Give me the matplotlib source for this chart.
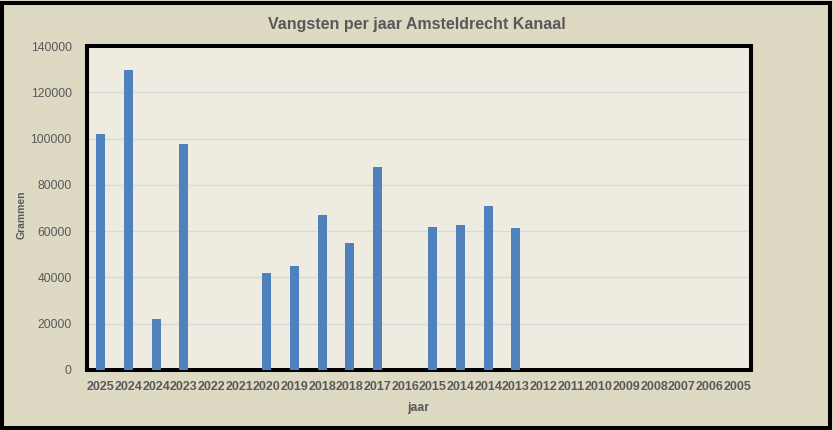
import matplotlib
matplotlib.use("Agg")
import matplotlib.pyplot as plt
from matplotlib.patches import Rectangle

categories = ["2025", "2024", "2024", "2023", "2022", "2021", "2020", "2019",
              "2018", "2018", "2017", "2016", "2015", "2014", "2014", "2013",
              "2012", "2011", "2010", "2009", "2008", "2007", "2006", "2005"]
values = [102000, 129700, 21900, 97600, 0, 0, 41800, 44800,
          66900, 54800, 87700, 0, 61700, 62600, 70800, 61300,
          0, 0, 0, 0, 0, 0, 0, 0]
yticks = [0, 20000, 40000, 60000, 80000, 100000, 120000, 140000]

W, H = 834, 430
fig = plt.figure(figsize=(W / 100, H / 100), dpi=100)
fig.patch.set_facecolor("#DDD9C3")
plt.rcParams["font.family"] = ["Liberation Sans", "DejaVu Sans"]

left, right, top, bottom = 87, 751, 46, 370
ax = fig.add_axes([left / W, (H - bottom) / H, (right - left) / W, (bottom - top) / H])
ax.set_facecolor("#EEECE1")

x = list(range(len(categories)))
ax.bar(x, values, width=0.33, color="#4F81BD", zorder=3)
ax.set_xlim(-0.5, len(categories) - 0.5)
ax.set_ylim(0, 140000)
ax.set_yticks(yticks)
ax.set_yticklabels([str(v) for v in yticks])
ax.set_xticks(x)
ax.set_xticklabels(categories, fontweight="bold")
ax.yaxis.grid(True, color="#D9D9D9", linewidth=1.0, zorder=0)
ax.set_axisbelow(True)
ax.tick_params(axis="both", length=0, colors="#595959")
ax.tick_params(axis="y", pad=11, labelsize=8.8)
ax.tick_params(axis="x", pad=8, labelsize=9)
for s in ax.spines.values():
    s.set_linewidth(2.9)
    s.set_color("black")

fig.text(417 / W, 1 - 24 / H, "Vangsten per jaar Amsteldrecht Kanaal",
         ha="center", va="center", fontsize=11.5, fontweight="bold", color="#595959")
fig.text(22 / W, 1 - 215 / H, "Grammen", rotation=90, ha="center", va="center",
         fontsize=7.5, fontweight="bold", color="#595959")
fig.text(418 / W, 1 - 408 / H, "jaar", ha="center", va="center",
         fontsize=8.8, fontweight="bold", color="#595959")

fig.patches.append(Rectangle((2 / W, 2 / H), 1 - 6 / W, 1 - 5 / H, transform=fig.transFigure,
                             fill=False, edgecolor="black", linewidth=2.9, zorder=10))

fig.savefig("out.png", dpi=100, facecolor=fig.get_facecolor())
